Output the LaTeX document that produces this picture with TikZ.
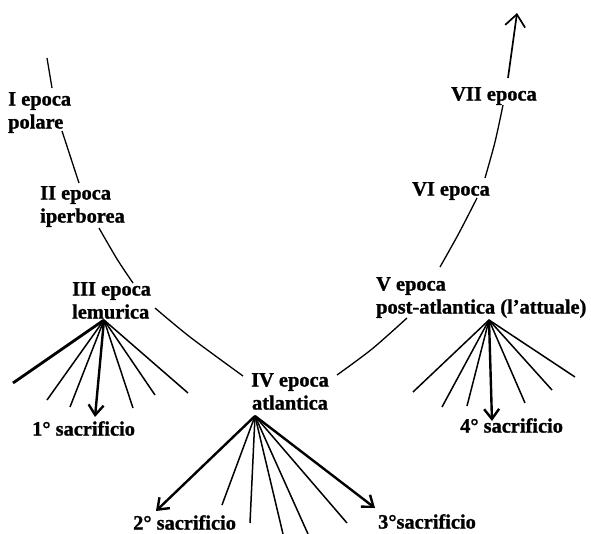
\documentclass[tikz,border=0pt]{standalone}
\usepackage{fontspec}
\setmainfont{Liberation Serif}[BoldFont={Liberation Serif Bold}]
\newfontfamily\lblfont{Liberation Serif Bold}[FakeBold=1.2]
\usetikzlibrary{arrows.meta}
\begin{document}
\begin{tikzpicture}[x=1pt,y=-1pt,
  lbl/.style={anchor=north west,inner sep=0pt,align=left,
    font=\lblfont\fontsize{20.4}{23}\selectfont},
  curve/.style={line width=1.3pt},
  ray/.style={line width=1.5pt},
  bigray/.style={line width=2.8pt},
  sacr/.style={line width=2.4pt,-{Straight Barb[length=10pt,width=15pt]}},
  topar/.style={line width=1.7pt,-{Straight Barb[length=12pt,width=20pt]}}]
\useasboundingbox (0,0) rectangle (591,533);
% labels
\node[lbl] (e1) at (8,92) {I epoca\\polare};
\node[lbl] (e2) at (40,186) {II epoca\\iperborea};
\node[lbl] (e3) at (72,282) {III epoca\\lemurica};
\node[lbl,align=center] (e4) at (251,373) {IV epoca\\atlantica};
\node[lbl] (e5) at (376,277) {V epoca\\post-atlantica (l’attuale)};
\node[lbl] (e6) at (412,182) {VI epoca};
\node[lbl] (e7) at (451,87) {VII epoca};
\node[lbl] (s1) at (32,421) {1° sacrificio};
\node[lbl] (s2) at (133,515) {2° sacrificio};
\node[lbl] (s3) at (378,514) {3°sacrificio};
\node[lbl] (s4) at (460,418) {4° sacrificio};
% main curve coordinates
\coordinate (c0) at (47,58);
\coordinate (c1) at (52,88);
\coordinate (c2) at (62,131);
\coordinate (c3) at (79,183);
\coordinate (c4) at (99,228);
\coordinate (c5) at (117,259);
\coordinate (c6) at (133,283);
\coordinate (c7) at (155,308);
\coordinate (c8) at (190,337);
\coordinate (c9) at (243,376);
\coordinate (d0) at (337,375);
\coordinate (d1) at (372,349);
\coordinate (d2) at (407,318);
\coordinate (d3) at (440,267);
\coordinate (d4) at (459,233);
\coordinate (d5) at (477,198);
\coordinate (d6) at (485,178);
\coordinate (d7) at (495,142);
\coordinate (d8) at (503,105);
\coordinate (d9) at (508,78);
\coordinate (top) at (517,13);
\draw[curve] (c0) -- (c1);
\draw[curve] (c2) -- (c3);
\draw[curve] plot[smooth] coordinates {(c4) (c5) (c6)};
\draw[curve] plot[smooth] coordinates {(c7) (c8) (c9)};
\draw[curve] plot[smooth] coordinates {(d0) (d1) (d2)};
\draw[curve] plot[smooth] coordinates {(d3) (d4) (d5)};
\draw[curve] plot[smooth] coordinates {(d6) (d7) (d8)};
\draw[topar] (d9) -- (top);
% fan 1
\coordinate (a1) at (104,320);
\coordinate (f11) at (13,383);
\coordinate (f12) at (47,400);
\coordinate (f13) at (70,407);
\coordinate (f14) at (95,417);
\coordinate (f15) at (133,408);
\coordinate (f16) at (155,395);
\coordinate (f17) at (188,393);
\draw[bigray] (a1) -- (f11);
\draw[ray] (a1) -- (f12);
\draw[ray] (a1) -- (f13);
\draw[sacr] (a1) -- (f14);
\draw[ray] (a1) -- (f15);
\draw[ray] (a1) -- (f16);
\draw[ray] (a1) -- (f17);
% fan 2
\coordinate (a2) at (255,416);
\coordinate (f21) at (156,511);
\coordinate (f22) at (222,505);
\coordinate (f23) at (250,523);
\coordinate (f24) at (283,534);
\coordinate (f25) at (308,534);
\coordinate (f26) at (347,523);
\coordinate (f27) at (375,508);
\draw[sacr] (a2) -- (f21);
\draw[ray] (a2) -- (f22);
\draw[ray] (a2) -- (f23);
\draw[ray] (a2) -- (f24);
\draw[ray] (a2) -- (f25);
\draw[ray] (a2) -- (f26);
\draw[sacr] (a2) -- (f27);
% fan 3
\coordinate (a3) at (489,320);
\coordinate (f31) at (413,392);
\coordinate (f32) at (442,407);
\coordinate (f33) at (467,406);
\coordinate (f34) at (492,421);
\coordinate (f35) at (525,403);
\coordinate (f36) at (552,390);
\coordinate (f37) at (575,377);
\draw[ray] (a3) -- (f31);
\draw[ray] (a3) -- (f32);
\draw[ray] (a3) -- (f33);
\draw[sacr] (a3) -- (f34);
\draw[ray] (a3) -- (f35);
\draw[ray] (a3) -- (f36);
\draw[ray] (a3) -- (f37);
\end{tikzpicture}
\end{document}
